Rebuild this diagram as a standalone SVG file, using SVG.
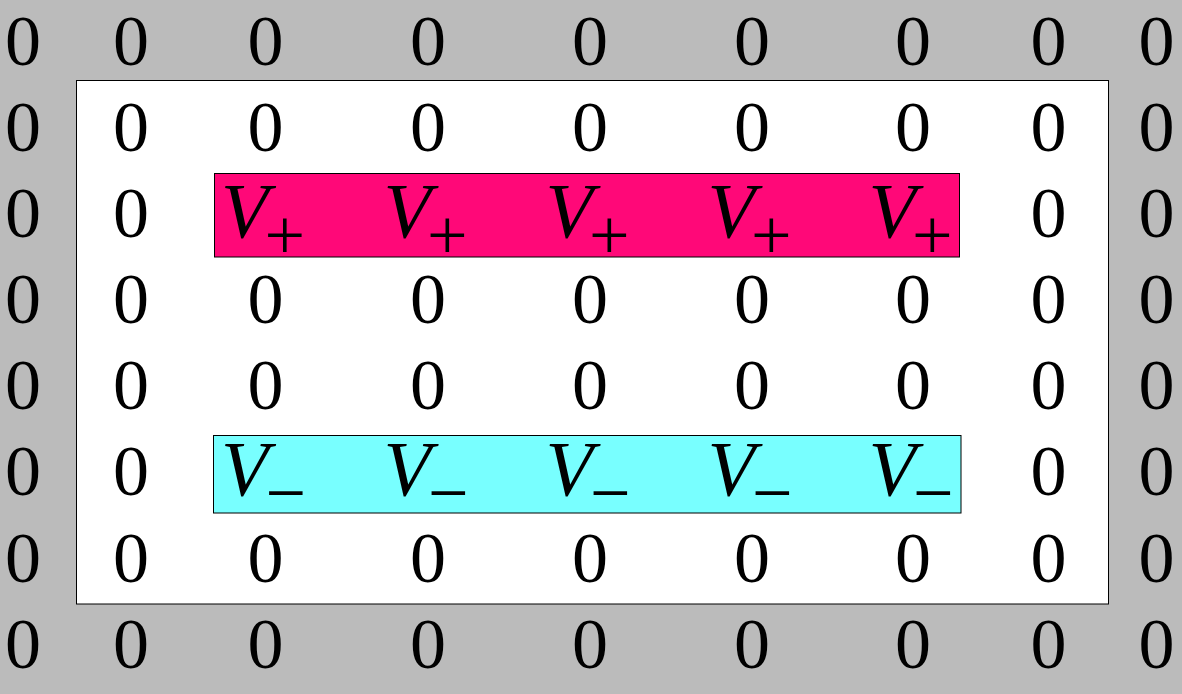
<svg xmlns="http://www.w3.org/2000/svg" width="1182" height="694" viewBox="0 0 1182 694">
<style>
.z{font-family:"Liberation Serif","Times New Roman",serif;font-size:72px;fill:#000;text-anchor:middle}
.v{font-family:"Liberation Serif","Times New Roman",serif;font-size:72px;fill:#000}
.i{font-style:italic;font-size:78px}
.box{stroke:#000;stroke-width:1}
</style>
<rect id="background" x="0" y="0" width="1182" height="694" fill="#bbbbbb"/>
<g id="inner-frame"><rect class="box" x="76.5" y="80.5" width="1032" height="523.5" fill="#ffffff"/></g>
<g id="vplus-band"><rect class="box" x="214.5" y="173.5" width="745" height="83.5" fill="#ff0878"/></g>
<g id="vminus-band"><rect class="box" x="213.5" y="435.5" width="747.5" height="77.5" fill="#78ffff"/></g>
<g id="zeros">
<g id="row1">
<text class="z" x="23" y="65">0</text><text class="z" x="131" y="65">0</text><text class="z" x="265.5" y="65">0</text><text class="z" x="428" y="65">0</text><text class="z" x="590" y="65">0</text><text class="z" x="752" y="65">0</text><text class="z" x="913" y="65">0</text><text class="z" x="1048.5" y="65">0</text><text class="z" x="1156.5" y="65">0</text>
</g>
<g id="row2">
<text class="z" x="23" y="151">0</text><text class="z" x="131" y="151">0</text><text class="z" x="265.5" y="151">0</text><text class="z" x="428" y="151">0</text><text class="z" x="590" y="151">0</text><text class="z" x="752" y="151">0</text><text class="z" x="913" y="151">0</text><text class="z" x="1048.5" y="151">0</text><text class="z" x="1156.5" y="151">0</text>
</g>
<g id="row3">
<text class="z" x="23" y="237">0</text><text class="z" x="131" y="237">0</text><text class="z" x="1048.5" y="237">0</text><text class="z" x="1156.5" y="237">0</text>
</g>
<g id="row4">
<text class="z" x="23" y="323">0</text><text class="z" x="131" y="323">0</text><text class="z" x="265.5" y="323">0</text><text class="z" x="428" y="323">0</text><text class="z" x="590" y="323">0</text><text class="z" x="752" y="323">0</text><text class="z" x="913" y="323">0</text><text class="z" x="1048.5" y="323">0</text><text class="z" x="1156.5" y="323">0</text>
</g>
<g id="row5">
<text class="z" x="23" y="409">0</text><text class="z" x="131" y="409">0</text><text class="z" x="265.5" y="409">0</text><text class="z" x="428" y="409">0</text><text class="z" x="590" y="409">0</text><text class="z" x="752" y="409">0</text><text class="z" x="913" y="409">0</text><text class="z" x="1048.5" y="409">0</text><text class="z" x="1156.5" y="409">0</text>
</g>
<g id="row6">
<text class="z" x="23" y="495">0</text><text class="z" x="131" y="495">0</text><text class="z" x="1048.5" y="495">0</text><text class="z" x="1156.5" y="495">0</text>
</g>
<g id="row7">
<text class="z" x="23" y="582">0</text><text class="z" x="131" y="582">0</text><text class="z" x="265.5" y="582">0</text><text class="z" x="428" y="582">0</text><text class="z" x="590" y="582">0</text><text class="z" x="752" y="582">0</text><text class="z" x="913" y="582">0</text><text class="z" x="1048.5" y="582">0</text><text class="z" x="1156.5" y="582">0</text>
</g>
<g id="row8">
<text class="z" x="23" y="668">0</text><text class="z" x="131" y="668">0</text><text class="z" x="265.5" y="668">0</text><text class="z" x="428" y="668">0</text><text class="z" x="590" y="668">0</text><text class="z" x="752" y="668">0</text><text class="z" x="913" y="668">0</text><text class="z" x="1048.5" y="668">0</text><text class="z" x="1156.5" y="668">0</text>
</g>
</g>
<g id="vplus-row">
<text class="v" x="221" y="237"><tspan class="i">V</tspan><tspan x="264.5" dy="22">+</tspan></text>
<text class="v" x="383.5" y="237"><tspan class="i">V</tspan><tspan x="427" dy="22">+</tspan></text>
<text class="v" x="545.5" y="237"><tspan class="i">V</tspan><tspan x="589" dy="22">+</tspan></text>
<text class="v" x="707.5" y="237"><tspan class="i">V</tspan><tspan x="751" dy="22">+</tspan></text>
<text class="v" x="868.5" y="237"><tspan class="i">V</tspan><tspan x="912" dy="22">+</tspan></text>
</g>
<g id="vminus-row">
<text class="v" x="221" y="495"><tspan class="i">V</tspan><tspan x="265.5" dy="22">−</tspan></text>
<text class="v" x="383.5" y="495"><tspan class="i">V</tspan><tspan x="428" dy="22">−</tspan></text>
<text class="v" x="545.5" y="495"><tspan class="i">V</tspan><tspan x="590" dy="22">−</tspan></text>
<text class="v" x="707.5" y="495"><tspan class="i">V</tspan><tspan x="752" dy="22">−</tspan></text>
<text class="v" x="868.5" y="495"><tspan class="i">V</tspan><tspan x="913" dy="22">−</tspan></text>
</g>
</svg>
